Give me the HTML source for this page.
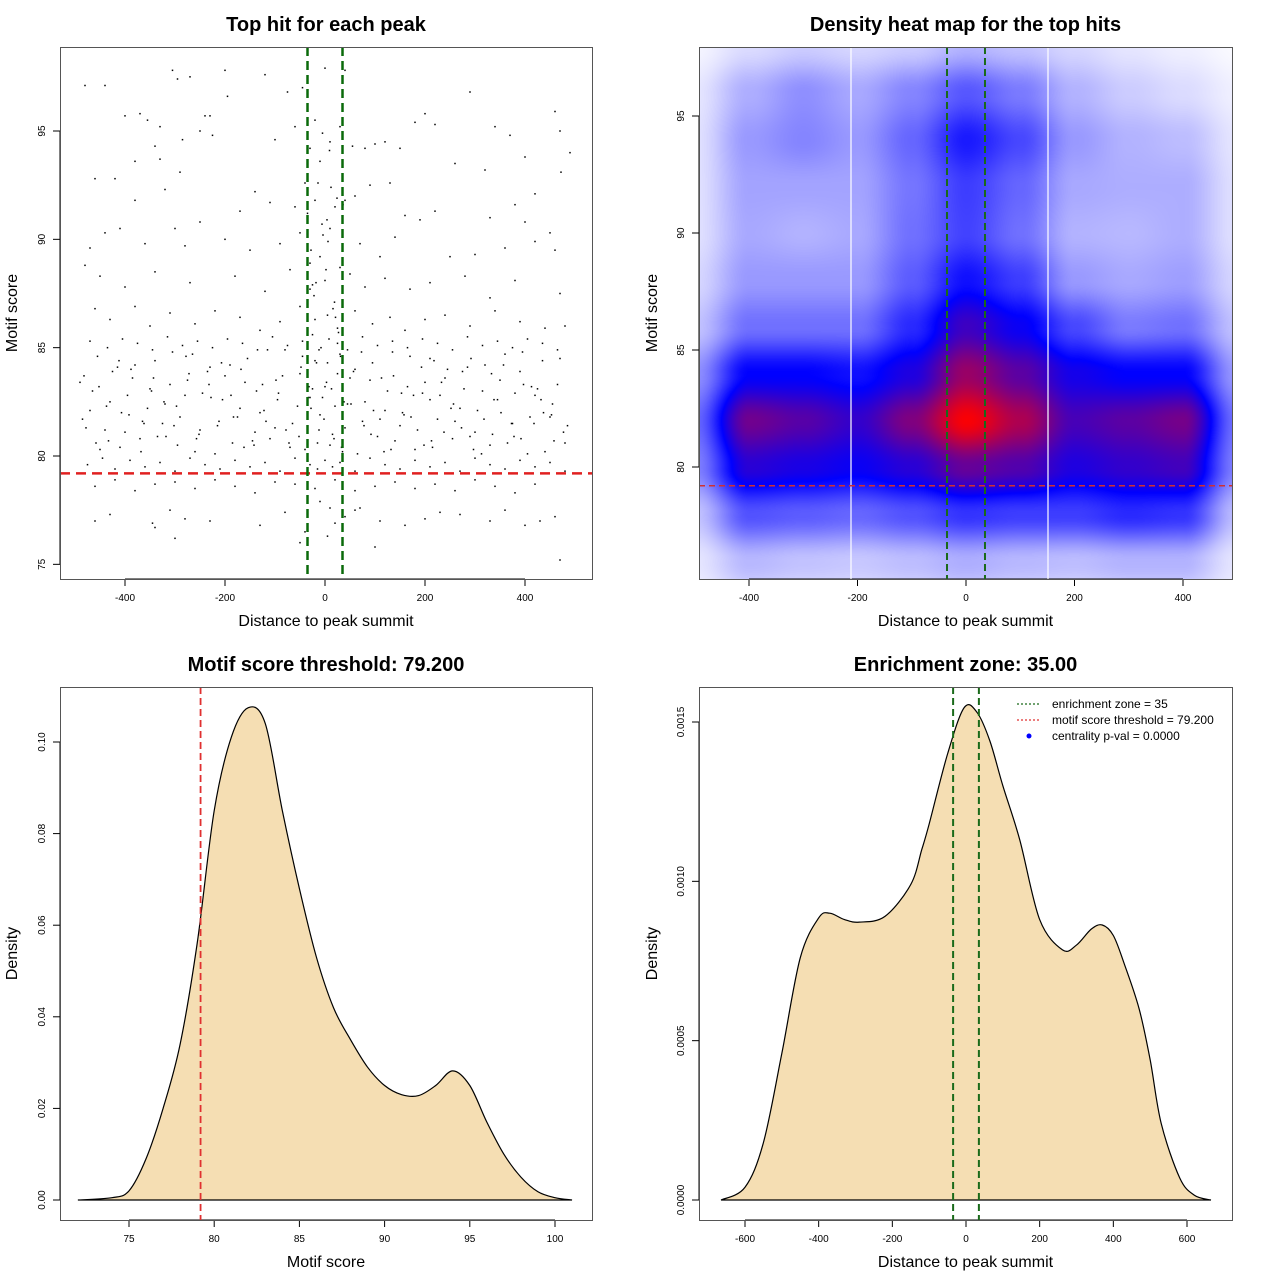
<!DOCTYPE html>
<html><head><meta charset="utf-8">
<style>
html,body{margin:0;padding:0;background:#fff;}
#wrap{position:relative;width:1280px;height:1280px;font-family:"Liberation Sans",sans-serif;}
#heat{position:absolute;left:700px;top:48px;}
#svg{position:absolute;left:0;top:0;}
text{font-family:"Liberation Sans",sans-serif;}
</style></head>
<body>
<div id="wrap">
<canvas id="heat" width="532" height="531"></canvas>
<svg id="svg" width="1280" height="1280" xmlns="http://www.w3.org/2000/svg"></svg>
</div>
<script>
// ---------- DATA ----------
const scatterX = [-480,-440,-305,-295,-270,-200,-195,-120,-75,-45,0,40,290,-400,-370,-355,-330,-240,-230,-250,-225,-285,-340,-380,-330,-100,-60,-30,-20,-5,10,30,55,80,100,120,150,180,200,220,260,340,370,460,470,490,400,420,320,-290,-420,-460,-380,-320,-170,-140,-110,-60,-40,-20,20,40,60,90,130,160,190,220,330,380,400,460,450,-470,-440,-410,-360,-300,-280,-250,-200,-150,-90,-50,-10,10,30,70,110,140,250,300,360,420,-480,-450,-400,-340,-270,-180,-120,-70,-30,0,50,80,120,170,210,280,330,380,470,-460,-430,-380,-350,-310,-260,-220,-170,-130,-90,-50,-20,5,25,60,95,130,160,200,240,290,340,390,440,480,
-490,-470,-455,-440,-425,-410,-395,-380,-365,-350,-335,-320,-305,-290,-275,-260,-245,-230,-215,-200,-185,-170,-155,-140,-125,-110,-95,-80,-65,-50,-40,-30,-20,-10,0,10,20,30,40,50,65,80,95,110,125,140,155,170,185,200,215,230,245,260,275,290,305,320,335,350,365,380,395,410,425,440,455,470,485,
-485,-465,-450,-430,-415,-400,-385,-370,-355,-340,-325,-310,-295,-280,-265,-250,-235,-220,-205,-190,-175,-160,-145,-130,-115,-100,-85,-70,-55,-45,-35,-25,-15,-5,5,15,25,35,45,60,75,90,105,120,135,150,165,180,195,210,225,240,255,270,285,300,315,330,345,360,375,390,405,420,435,450,465,480,
-475,-445,-420,-390,-360,-330,-300,-270,-240,-210,-180,-150,-120,-90,-60,-30,-15,0,15,30,60,90,120,150,180,210,240,270,300,330,360,390,420,450,480,
-470,-435,-405,-375,-345,-315,-285,-255,-225,-195,-165,-135,-105,-75,-45,-25,-8,8,25,45,75,105,135,165,195,225,255,285,315,345,375,405,435,465,
-460,-420,-380,-340,-300,-260,-220,-180,-140,-100,-60,-20,20,60,100,140,180,220,260,300,340,380,420,460,
-460,-430,-345,-310,-280,-230,-130,-80,-40,-10,10,40,70,110,160,200,230,270,330,360,400,430,470,-340,-300,-50,5,20,60,100,210,
-478,-452,-433,-407,-388,-362,-343,-318,-297,-272,-252,-228,-207,-183,-162,-137,-118,-93,-72,-48,-28,-12,3,18,38,57,78,97,118,137,158,177,198,218,238,257,278,297,318,338,357,378,397,418,437,458,477,
-482,-458,-437,-412,-392,-368,-347,-322,-302,-278,-257,-232,-212,-188,-168,-142,-122,-98,-78,-52,-33,-17,-2,13,33,52,73,92,113,132,153,172,193,213,233,252,273,292,313,333,352,373,392,413,432,453,472,
-35,-28,-22,-14,-6,2,9,16,24,31,-32,-18,-4,12,27,-25,-10,6,21,36,-30,-12,4,19,33];
const scatterY = [97.1,97.1,97.8,97.4,97.5,97.8,96.6,97.6,96.8,97.0,97.9,97.8,96.8,95.7,95.8,95.5,95.2,95.7,95.7,95.0,94.8,94.6,94.3,93.6,93.7,94.6,95.2,94.2,95.5,94.9,94.5,95.2,94.3,94.2,94.4,94.5,94.2,95.4,95.8,95.3,93.5,95.2,94.8,95.9,95.0,94.0,93.8,92.1,93.2,93.1,92.8,92.8,91.8,92.3,91.3,92.2,91.7,91.5,92.6,91.8,91.5,91.8,92.0,92.5,92.6,91.1,90.9,91.3,91.0,91.6,90.8,89.5,90.3,89.6,90.3,90.5,89.8,90.5,89.7,90.8,90.0,89.5,89.8,90.3,89.2,90.5,88.7,89.8,89.2,90.1,89.2,89.3,89.6,89.9,88.8,88.3,87.8,88.5,88.0,88.3,87.6,88.6,87.7,88.1,88.4,87.8,88.2,87.7,88.0,88.3,87.3,88.1,87.5,86.8,86.3,86.9,86.0,86.6,86.1,86.7,86.4,85.8,86.2,86.9,86.3,86.5,85.9,86.7,86.1,86.4,85.8,86.3,86.5,86.0,86.7,86.2,85.9,86.0,
83.4,82.1,84.6,81.2,83.9,80.4,82.8,84.2,81.6,83.1,80.9,82.4,84.8,81.8,83.5,80.2,82.9,84.1,81.4,83.7,80.6,82.2,84.5,81.1,83.3,80.8,82.6,84.9,81.5,83.8,80.3,82.7,84.4,81.9,83.2,80.5,82.3,84.7,81.3,83.6,80.1,82.5,84.3,81.7,83.0,80.7,82.0,84.6,81.2,83.4,80.4,82.8,84.0,81.6,83.9,80.9,82.1,84.2,81.0,83.5,80.6,82.9,84.8,81.8,83.1,80.2,82.4,84.5,81.4,
81.7,83.0,80.3,82.5,84.1,81.1,83.6,80.8,82.2,84.4,81.5,83.3,80.5,82.8,84.7,81.2,83.9,80.1,82.6,84.2,81.8,83.4,80.7,82.0,84.9,81.3,83.7,80.4,82.3,84.6,81.9,83.1,80.6,82.7,84.3,81.0,83.8,80.2,82.4,84.0,81.6,83.5,80.9,82.1,84.8,81.4,83.2,80.3,82.9,84.5,81.7,83.6,80.8,82.2,84.1,81.1,83.0,80.5,82.6,84.7,81.5,83.9,80.1,82.8,84.4,81.8,83.3,80.6,
79.6,79.9,79.4,79.8,79.5,79.7,79.3,79.9,79.6,79.4,79.8,79.5,79.7,79.3,79.9,79.6,79.4,79.8,79.5,79.7,79.3,79.9,79.6,79.4,79.8,79.5,79.7,79.3,79.9,79.6,79.4,79.8,79.5,79.7,79.3,
85.3,85.0,85.4,85.2,84.9,85.5,85.1,85.3,85.0,85.4,85.2,84.9,85.5,85.1,85.3,85.6,85.0,85.4,85.2,84.9,85.5,85.1,85.3,85.0,85.4,85.2,84.9,85.5,85.1,85.3,85.0,85.4,85.2,84.9,
78.6,78.9,78.4,78.7,78.8,78.5,78.9,78.6,78.3,78.8,78.7,78.5,78.9,78.4,78.6,78.8,78.5,78.7,78.4,78.9,78.6,78.3,78.7,
77.2,77.0,77.3,76.9,77.5,77.1,77.0,76.8,77.4,76.5,77.9,77.6,77.2,77.6,77.0,76.8,77.1,77.4,77.3,77.0,77.5,76.8,77.0,75.2,76.7,76.2,76.0,76.3,76.9,77.5,75.8,
82.6,81.3,83.2,80.7,82.0,84.0,81.5,83.6,80.9,82.3,83.8,81.0,82.7,84.3,81.8,80.4,83.0,81.6,82.9,80.6,84.1,82.2,81.2,83.4,80.8,82.5,83.9,81.4,82.1,80.2,83.7,81.9,82.8,80.5,84.4,81.1,82.4,83.1,80.3,81.7,82.6,84.2,80.9,83.3,81.5,82.0,80.7,
81.1,83.7,80.6,82.3,84.4,81.9,80.2,83.0,82.5,81.4,84.6,80.8,83.3,81.6,82.8,84.0,80.5,82.1,83.5,81.2,80.9,82.7,84.3,81.7,83.1,80.4,82.4,84.8,81.0,83.6,80.3,82.9,81.8,84.1,80.7,83.4,82.2,81.3,84.5,80.1,83.8,82.0,81.5,80.8,83.2,82.6,81.9,
93.1,91.2,89.5,87.4,92.6,90.7,88.6,94.1,86.8,91.9,84.6,83.2,88.0,90.2,92.4,85.7,87.9,93.6,89.9,86.4,91.6,88.9,84.9,90.9,87.1];

// heatmap density grid (0=white, 0.5=blue, 1=red)
const heatXs = [-500,-400,-300,-200,-100,0,100,200,300,400,500];
const heatYs = [98,96,94,92,90,88,86,84,82,80,78,76,74];
const heatRow98 = [.02,.07,.1,.08,.1,.15,.12,.08,.05,.03,.01];
const heatRow96 = [.05,.16,.22,.17,.24,.33,.26,.15,.1,.07,.03];
const heatRow94 = [.06,.2,.24,.2,.3,.45,.36,.2,.15,.13,.05];
const heatRow92 = [.06,.18,.18,.18,.27,.38,.3,.17,.16,.16,.06];
const heatRow90 = [.06,.17,.15,.17,.28,.37,.28,.15,.14,.16,.06];
const heatRow88 = [.08,.2,.2,.2,.32,.47,.38,.2,.17,.19,.08];
const heatRow86 = [.12,.28,.28,.28,.42,.62,.52,.36,.26,.28,.12];
const heatRow84 = [.22,.5,.5,.47,.56,.8,.68,.54,.5,.5,.2];
const heatRow82 = [.3,.72,.67,.6,.75,.99,.84,.64,.68,.73,.28];
const heatRow80 = [.25,.58,.55,.52,.58,.7,.66,.56,.6,.63,.25];
const heatRow78 = [.12,.34,.32,.3,.34,.4,.38,.38,.42,.4,.13];
const heatRow76 = [.05,.14,.12,.11,.13,.16,.14,.13,.15,.15,.05];
const heatRow74 = [.02,.05,.04,.04,.05,.06,.05,.04,.05,.05,.02];
const heatGrid = [heatRow98,heatRow96,heatRow94,heatRow92,heatRow90,heatRow88,heatRow86,heatRow84,heatRow82,heatRow80,heatRow78,heatRow76,heatRow74];

// motif score density
const scoreX = [72,74,75,76,77,78,79,80,81,82,83,84,85,86,87,88,89,90,91,92,93,94,95,96,97,98,99,100,101];
const scoreD = [0,0.0005,0.002,0.009,0.02,0.034,0.056,0.085,0.101,0.1075,0.104,0.085,0.068,0.053,0.042,0.035,0.029,0.025,0.023,0.0228,0.025,0.0282,0.025,0.017,0.01,0.005,0.0018,0.0005,0];
// distance density (x1e-4)
const distX = [-665,-600,-550,-500,-450,-400,-370,-330,-290,-220,-150,-120,-100,-50,-5,30,65,100,146,200,262,300,340,370,400,430,470,500,530,580,620,665];
const distD = [0,0.4,1.8,4.6,7.6,8.85,9.0,8.8,8.72,8.9,9.9,11.0,11.8,14.0,15.45,15.3,14.4,13.0,11.3,8.8,7.85,8.0,8.5,8.63,8.3,7.4,6.0,4.4,2.4,0.7,0.15,0];

const legendLabels = ["enrichment zone = 35","motif score threshold = 79.200","centrality p-val = 0.0000"];

// ---------- DRAW ----------
const NS="http://www.w3.org/2000/svg";
const svg=document.getElementById('svg');
function el(tag,attrs,parent,txt){const e=document.createElementNS(NS,tag);for(const k in attrs)e.setAttribute(k,attrs[k]);if(txt!==undefined)e.textContent=txt;(parent||svg).appendChild(e);return e;}
function lin(d0,d1,p0,p1){return v=>p0+(v-d0)*(p1-p0)/(d1-d0);}
function smoothPath(pts){let d=`M${pts[0][0]},${pts[0][1]}`;for(let i=0;i<pts.length-1;i++){const p0=pts[Math.max(i-1,0)],p1=pts[i],p2=pts[i+1],p3=pts[Math.min(i+2,pts.length-1)];const c1=[p1[0]+(p2[0]-p0[0])/6,p1[1]+(p2[1]-p0[1])/6],c2=[p2[0]-(p3[0]-p1[0])/6,p2[1]-(p3[1]-p1[1])/6];d+=` C${c1[0]},${c1[1]} ${c2[0]},${c2[1]} ${p2[0]},${p2[1]}`;}return d;}

function frame(name,x0,y0,x1,y1,title,xlabel,ylabel,xt,xs,yt,ys,ylabX){
  const g=el('g',{});
  
  
  const t=el('text',{x:(x0+x1)/2,y:y0-16,'text-anchor':'middle','font-size':20,'font-weight':'bold'},g,title);
  
  const xl=el('text',{x:(x0+x1)/2,y:y1+47,'text-anchor':'middle','font-size':16},g,xlabel);
  
  const ym=(y0+y1)/2;
  const yl=el('text',{x:ylabX,y:ym,'text-anchor':'middle','font-size':16,transform:`rotate(-90 ${ylabX} ${ym})`},g,ylabel);
  
  const xa=el('g',{},g);
  el('line',{x1:xs(xt[0]),x2:xs(xt[xt.length-1]),y1:y1,y2:y1,stroke:'#000'},xa);
  xt.forEach(v=>{el('line',{x1:xs(v),x2:xs(v),y1:y1,y2:y1+7,stroke:'#000'},xa);
    const tl=el('text',{x:xs(v),y:y1+22,'text-anchor':'middle','font-size':10},xa,String(v));
    });
  const ya=el('g',{},g);
  el('line',{x1:x0,x2:x0,y1:ys(yt[0]),y2:ys(yt[yt.length-1]),stroke:'#000'},ya);
  yt.forEach(v=>{el('line',{x1:x0-7,x2:x0,y1:ys(v),y2:ys(v),stroke:'#000'},ya);
    const lx=x0-15,ly=ys(v);
    const tl=el('text',{x:lx,y:ly,'text-anchor':'middle','font-size':10,transform:`rotate(-90 ${lx} ${ly})`},ya,typeof v==='number'&&yt.fmt?yt.fmt(v):String(v));
    });
  return g;
}
function box(g,x0,y0,x1,y1){const r=el('rect',{x:x0+.5,y:y0+.5,width:x1-x0,height:y1-y0,fill:'none',stroke:'#555'},g);}

// Panel 1: scatter
{
  const x0=60,y0=47,x1=592,y1=579;
  const xs=lin(0,400,325,525), ys=lin(80,95,456,131);
  const g=frame('scatter-panel',x0,y0,x1,y1,'Top hit for each peak','Distance to peak summit','Motif score',[-400,-200,0,200,400],xs,[75,80,85,90,95],ys,17);
  const pg=el('g',{},g);
  const n=Math.min(scatterX.length,scatterY.length);
  for(let i=0;i<n;i++){
    const c=el('rect',{x:xs(scatterX[i])-0.75,y:ys(scatterY[i])-0.75,width:1.5,height:1.5,fill:'#000'},pg);
    
    
  }
  const r=el('line',{x1:x0,x2:x1,y1:ys(79.2),y2:ys(79.2),stroke:'#e02020','stroke-width':2.5,'stroke-dasharray':'10,6'},g);
  
  [-35,35].forEach(v=>{const l=el('line',{x1:xs(v),x2:xs(v),y1:y0,y2:y1,stroke:'#0a6a0a','stroke-width':2.5,'stroke-dasharray':'9,5'},g);
    });
  box(g,x0,y0,x1,y1);
}

// Panel 2: heatmap
{
  const x0=699,y0=47,x1=1232,y1=579;
  const xs=lin(0,400,966,1183), ys=lin(80,95,467,116);
  const cv=document.getElementById('heat'),ctx=cv.getContext('2d');
  const W=cv.width,H=cv.height,img=ctx.createImageData(W,H);
  const xinv=lin(966,1183,0,400), yinv=lin(467,116,80,95);
  const sm=t=>t*t*(3-2*t);
  function val(x,y){
    let fx=(x-heatXs[0])/(heatXs[1]-heatXs[0]); let fy=(heatYs[0]-y)/(heatYs[0]-heatYs[1]);
    fx=Math.max(0,Math.min(heatXs.length-1.0001,fx)); fy=Math.max(0,Math.min(heatYs.length-1.0001,fy));
    const i=Math.floor(fx),j=Math.floor(fy),tx=sm(fx-i),ty=sm(fy-j);
    const a=heatGrid[j][i],b=heatGrid[j][i+1],c=heatGrid[j+1][i],d=heatGrid[j+1][i+1];
    return (a*(1-tx)+b*tx)*(1-ty)+(c*(1-tx)+d*tx)*ty;
  }
  for(let py=0;py<H;py++)for(let px=0;px<W;px++){
    const v=val(xinv(px+700),yinv(py+48));let r,g2,b;
    if(v<0.5){const t=v/0.5;r=255*(1-t);g2=255*(1-t);b=255;}
    else{const t=Math.min(1,(v-0.5)/0.5);r=255*t;g2=0;b=255*(1-t);}
    const k=(py*W+px)*4;img.data[k]=r;img.data[k+1]=g2;img.data[k+2]=b;img.data[k+3]=255;
  }
  ctx.putImageData(img,0,0);
  const g=frame('heatmap-panel',x0,y0,x1,y1,'Density heat map for the top hits','Distance to peak summit','Motif score',[-400,-200,0,200,400],xs,[80,85,90,95],ys,657);
  [851,1048].forEach(px=>{const l=el('line',{x1:px,x2:px,y1:y0,y2:y1,stroke:'#fff','stroke-width':1.2},g);});
  const r=el('line',{x1:x0,x2:x1,y1:ys(79.2),y2:ys(79.2),stroke:'#d03030','stroke-width':1.5,'stroke-dasharray':'6,4'},g);
  
  [-35,35].forEach(v=>{const l=el('line',{x1:xs(v),x2:xs(v),y1:y0,y2:y1,stroke:'#1a6a1a','stroke-width':2,'stroke-dasharray':'7,4'},g);
    });
  box(g,x0,y0,x1,y1);
}

// Panel 3: motif score density
{
  const x0=60,y0=687,x1=592,y1=1220;
  const xs=lin(75,100,129,555), ys=lin(0,0.1,1200,742);
  const yt=[0,0.02,0.04,0.06,0.08,0.10];yt.fmt=v=>v.toFixed(2);
  const g=frame('score-density-panel',x0,y0,x1,y1,'Motif score threshold: 79.200','Motif score','Density',[75,80,85,90,95,100],xs,yt,ys,17);
  const pts=scoreX.map((v,i)=>[xs(v),ys(scoreD[i])]);
  const p=el('path',{d:smoothPath(pts)+' Z',fill:'#f5deb3',stroke:'#000','stroke-width':1.2},g);
  
  const r=el('line',{x1:xs(79.2),x2:xs(79.2),y1:y0,y2:y1,stroke:'#e03030','stroke-width':1.8,'stroke-dasharray':'7,4'},g);
  
  box(g,x0,y0,x1,y1);
}

// Panel 4: distance density
{
  const x0=699,y0=687,x1=1232,y1=1220;
  const xs=lin(0,600,966,1187), ys=lin(0,15,1200,722);
  const yt=[0,5,10,15];yt.fmt=v=>(v/10000).toFixed(4);
  const g=frame('distance-density-panel',x0,y0,x1,y1,'Enrichment zone: 35.00','Distance to peak summit','Density',[-600,-400,-200,0,200,400,600],xs,yt,ys,657);
  const pts=distX.map((v,i)=>[xs(v),ys(distD[i])]);
  const p=el('path',{d:smoothPath(pts)+' Z',fill:'#f5deb3',stroke:'#000','stroke-width':1.2},g);
  
  [-35,35].forEach(v=>{const l=el('line',{x1:xs(v),x2:xs(v),y1:y0,y2:y1,stroke:'#1a6a1a','stroke-width':2,'stroke-dasharray':'7,4'},g);
    });
  box(g,x0,y0,x1,y1);
  const lg=el('g',{},g);
  const cols=['#1a6a1a','#e03030'];
  legendLabels.forEach((lab,i)=>{
    const y=704+i*16;
    const e=el('g',{},lg);
    if(i<2) el('line',{x1:1017,x2:1041,y1:y,y2:y,stroke:cols[i],'stroke-width':1.2,'stroke-dasharray':'2,2'},e);
    else el('circle',{cx:1029,cy:y,r:2.5,fill:'#0000ff'},e);
    el('text',{x:1052,y:y+4,'font-size':12},e,lab);
  });
}
</script>
</body></html>
